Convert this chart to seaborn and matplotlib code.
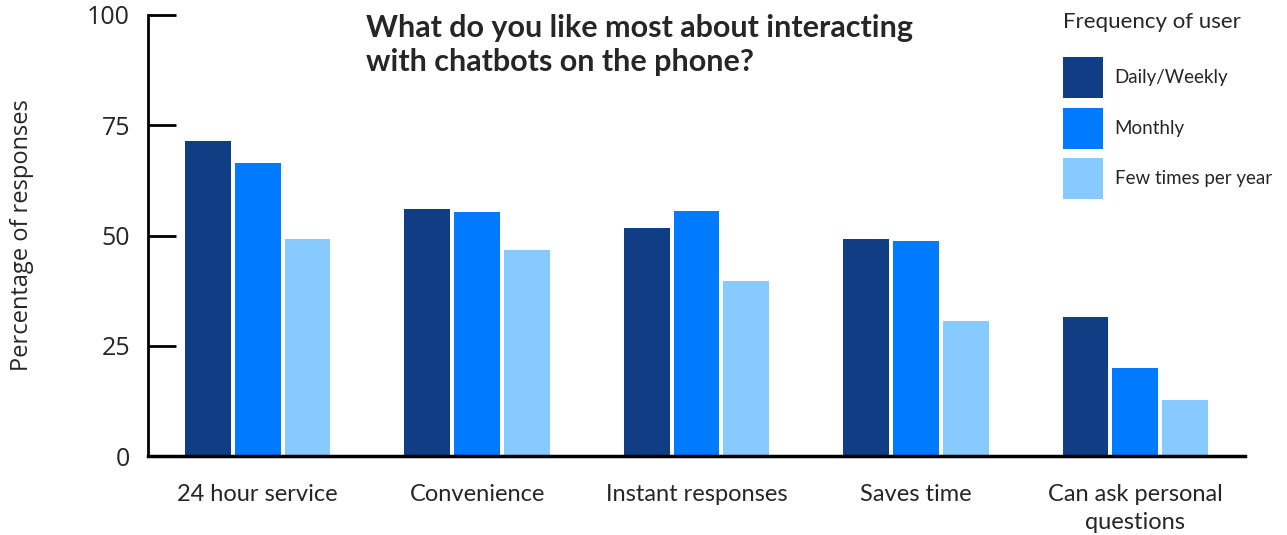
import matplotlib
matplotlib.use("Agg")
import matplotlib.pyplot as plt
import seaborn as sns
import pandas as pd
from matplotlib.patches import Patch

categories = ["24 hour service", "Convenience", "Instant responses", "Saves time",
              "Can ask personal\nquestions"]
series_names = ["Daily/Weekly", "Monthly", "Few times per year"]
daily_weekly = [71.4, 55.9, 51.6, 49.2, 31.5]
monthly = [66.5, 55.3, 55.5, 48.8, 20.0]
few_times = [49.2, 46.8, 39.7, 30.5, 12.6]
colors = ["#103D84", "#007AFF", "#87CAFF"]
y_ticks = [0, 25, 50, 75, 100]

rows = []
for name, vals in zip(series_names, [daily_weekly, monthly, few_times]):
    for c, v in zip(categories, vals):
        rows.append({"category": c, "frequency": name, "value": v})
df = pd.DataFrame(rows)

sns.set_theme(style="white")
plt.rcParams["font.family"] = ["Lato", "DejaVu Sans"]

fig = plt.figure(figsize=(12.87, 5.35), dpi=100)
ax = fig.add_axes([148/1287, 1 - 456/535, (1245-148)/1287, (456-15)/535])

sns.barplot(data=df, x="category", y="value", hue="frequency",
            order=categories, hue_order=series_names, palette=colors,
            saturation=1, width=0.68, gap=0.08, linewidth=0, ax=ax, legend=False)

ax.set_xlim(-0.5, 4.5)
ax.set_ylim(0, 100)
ax.set_yticks(y_ticks)
ax.set_yticklabels([str(t) for t in y_ticks], fontfamily="Open Sans", fontsize=18)
ax.tick_params(axis="y", direction="in", length=20, width=2, color="black", pad=13, left=True)
ax.tick_params(axis="x", length=0, pad=20, labelsize=17)
for lab in ax.get_xticklabels():
    lab.set_linespacing(1.4)
ax.set_xlabel("")
ax.set_ylabel("Percentage of responses", fontfamily="Open Sans", fontsize=17, labelpad=38)

for s in ["top", "right"]:
    ax.spines[s].set_visible(False)
ax.spines["left"].set_linewidth(2)
ax.spines["bottom"].set_linewidth(2.5)
ax.spines["left"].set_color("black")
ax.spines["bottom"].set_color("black")

fig.text(366/1287, 1 - 14/535, "What do you like most about interacting\nwith chatbots on the phone?",
         ha="left", va="top", fontsize=22, fontweight="bold", linespacing=1.28)

handles = [Patch(facecolor=c, edgecolor="none") for c in colors]
leg = fig.legend(handles, series_names, title="Frequency of user",
                 loc="upper left", bbox_to_anchor=(1063/1287, 1 - 12/535),
                 frameon=False, fontsize=13.5, title_fontsize=16,
                 handlelength=2.13, handleheight=3.0, labelspacing=0.5,
                 handletextpad=0.62, borderaxespad=0, borderpad=0)
leg._legend_box.align = "left"
leg._legend_box.sep = 18

fig.savefig("out.png", dpi=100)
